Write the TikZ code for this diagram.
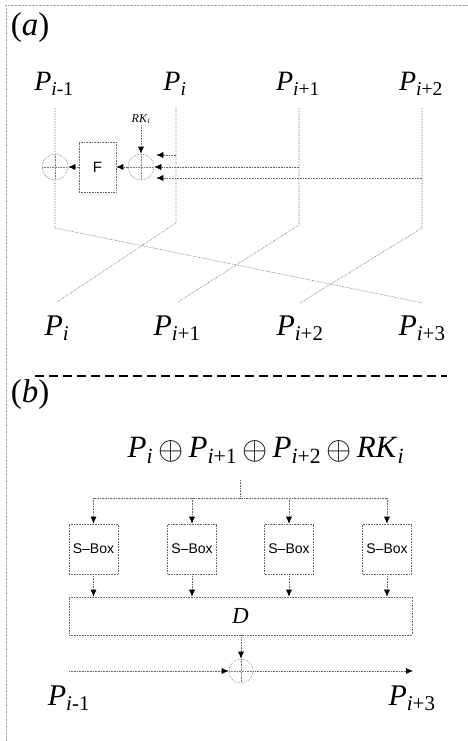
\documentclass[tikz,border=0pt]{standalone}
\usepackage{fontspec}
\setmainfont{Liberation Serif}
\setsansfont{Liberation Sans}
\usetikzlibrary{arrows.meta}
\newcommand{\Pv}[2]{\textit{P}\textsubscript{\textit{#1}#2}}
\newcommand{\bigxor}{\,\raisebox{-0.08em}{\scalebox{1.3}{$\oplus$}}\,}
\tikzset{
  wire/.style={draw=black!60, line width=0.6pt, densely dotted},
  arr/.style={wire, -{Latex[length=7pt,width=6pt,black]}},
  xorgate/.style={circle, draw=black!55, densely dotted, line width=0.6pt,
                  minimum size=26pt, inner sep=0pt,
                  path picture={\draw[black!55, densely dotted]
                    (path picture bounding box.north) -- (path picture bounding box.south)
                    (path picture bounding box.west) -- (path picture bounding box.east);}},
  plab/.style={font=\fontsize{28}{30}\selectfont, inner sep=0pt},
  qlab/.style={font=\fontsize{30}{32}\selectfont, inner sep=0pt},
  partlab/.style={font=\fontsize{33}{36}\selectfont, inner sep=0pt},
  fblock/.style={draw=black!60, densely dotted, line width=0.6pt,
                 minimum width=37pt, minimum height=50pt, font=\sffamily\fontsize{15}{17}\selectfont},
  sblock/.style={draw=black!60, densely dotted, line width=0.6pt, inner sep=1pt,
                 minimum width=49pt, minimum height=50pt, font=\sffamily\fontsize{14}{16}\selectfont},
  sep/.style={line width=2pt, dash pattern=on 9pt off 5pt}
}
\begin{document}
\begin{tikzpicture}[x=1pt, y=-1pt]
  \useasboundingbox (0,0) rectangle (468,741);
  \draw[black!35, densely dotted] (5,5) -- (468,5) (6,5) -- (6,741);

  % (a)
  \node (parta) [partlab] at (30,28) {(\textit{a})};
  \node (pim1) [plab] at (54,84) {\Pv{i}{-1}};
  \node (pi)   [plab] at (175,84) {\Pv{i}{}};
  \node (pip1) [plab] at (298,84) {\Pv{i}{+1}};
  \node (pip2) [plab] at (421,84) {\Pv{i}{+2}};

  \coordinate (t1) at (55,108);  \coordinate (b1) at (55,228);  \coordinate (e1) at (57,302);
  \coordinate (t2) at (176,108); \coordinate (b2) at (176,223); \coordinate (e2) at (178,302);
  \coordinate (t3) at (299,108); \coordinate (b3) at (299,225); \coordinate (e3) at (300,303);
  \coordinate (t4) at (422,108); \coordinate (b4) at (422,228); \coordinate (e4) at (423,303);

  \draw[wire] (t1) -- (b1) -- (e4);
  \draw[wire] (t2) -- (b2) -- (e1);
  \draw[wire] (t3) -- (b3) -- (e2);
  \draw[wire] (t4) -- (b4) -- (e3);

  \node (xl) [xorgate, fill=white] at (55,167) {};
  \node (fbox) [fblock] at (97.5,167) {F};
  \node (xr) [xorgate] at (141,167) {};
  \node (rk) [font=\fontsize{12}{14}\selectfont, inner sep=1pt] at (141,119)
             {\textit{RK}\textsubscript{\textit{i}}};

  \draw[arr] (rk.south) -- (xr.north);
  \draw[arr] (xr.west) -- (fbox.east);
  \draw[arr] (fbox.west) -- (xl.east);

  \coordinate (c2) at (176,155);
  \coordinate (c3) at (299,167);
  \coordinate (c4) at (422,178);
  \draw[arr] (c2) -- ([xshift=2pt]c2 -| xr.east);
  \draw[arr] (c3) -- (xr.east);
  \draw[arr] (c4) -- ([xshift=2pt]c4 -| xr.east);

  \node (qi)   [qlab] at (57,328) {\Pv{i}{}};
  \node (qip1) [qlab] at (177,328) {\Pv{i}{+1}};
  \node (qip2) [qlab] at (300,328) {\Pv{i}{+2}};
  \node (qip3) [qlab] at (422,328) {\Pv{i}{+3}};

  \coordinate (sl) at (35,376);
  \coordinate (sr) at (447,376);
  \draw[sep] (sl) -- (sr);

  % (b)
  \node (partb) [partlab] at (30,395) {(\textit{b})};
  \node (expr) [qlab, font=\fontsize{31}{33}\selectfont] at (266,450)
        {\Pv{i}{}\bigxor\Pv{i}{+1}\bigxor\Pv{i}{+2}\bigxor\textit{RK}\textsubscript{\textit{i}}};

  \coordinate (ex) at (240,480);
  \coordinate (sp) at (240,498);
  \foreach \n/\x in {1/93.5, 2/192, 3/289, 4/387}
    \node (s\n) [sblock] at (\x,549) {S--Box};
  \node (dbox) [draw=black!60, densely dotted, line width=0.6pt, minimum width=343pt,
                minimum height=38pt, font=\fontsize{23}{25}\selectfont] at (240.5,616) {\textit{D}};
  \node (xb) [xorgate, minimum size=24pt] at (241,671) {};

  \draw[wire] (ex) -- (sp);
  \draw[wire] (s1.north |- sp) -- (s4.north |- sp);
  \foreach \n in {1,...,4} {
    \draw[arr] (s\n.north |- sp) -- (s\n.north);
    \draw[arr] (s\n.south) -- (s\n.south |- dbox.north);
  }
  \draw[arr] (dbox.south -| xb) -- (xb.north);

  \coordinate (hl) at (69,671);
  \coordinate (hr) at (413,671);
  \draw[arr] (hl) -- (xb.west);
  \draw[arr] (xb.east) -- (hr);

  \node (rim1) [qlab] at (69,698) {\Pv{i}{-1}};
  \node (rip3) [qlab] at (412,698) {\Pv{i}{+3}};
\end{tikzpicture}
\end{document}
